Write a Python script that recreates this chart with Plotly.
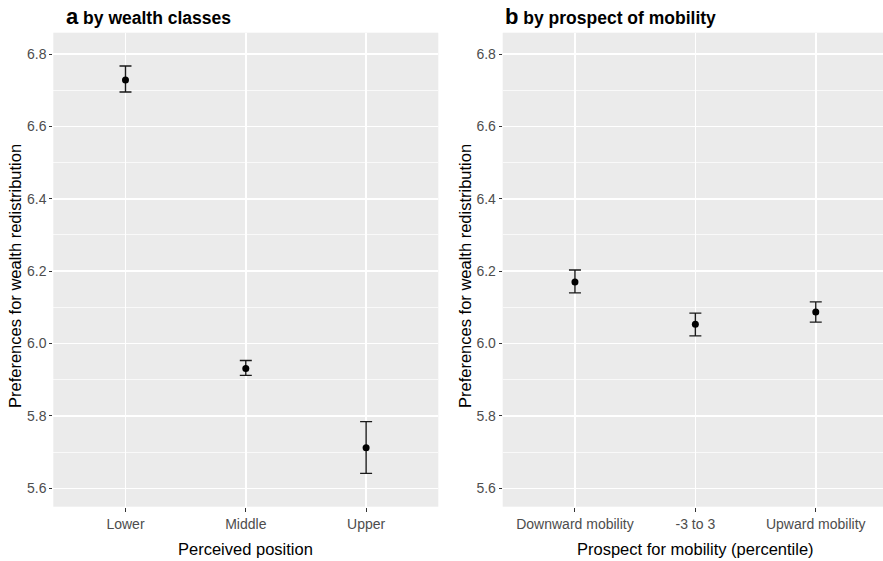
import plotly.graph_objects as go

# Panel a: by wealth classes
cats_a = ["Lower", "Middle", "Upper"]
mean_a = [6.728, 5.931, 5.712]
upper_a = [6.767, 5.953, 5.784]
lower_a = [6.695, 5.912, 5.641]

# Panel b: by prospect of mobility
cats_b = ["Downward mobility", "-3 to 3", "Upward mobility"]
mean_b = [6.170, 6.053, 6.087]
upper_b = [6.203, 6.084, 6.115]
lower_b = [6.140, 6.021, 6.059]

y_ticks = [5.6, 5.8, 6.0, 6.2, 6.4, 6.6, 6.8]
y_range = [5.549, 6.859]

FONT = "Liberation Sans, Arial, sans-serif"
W, H = 883, 561

fig = go.Figure()

def add_panel(cats, mean, up, lo, xa, ya):
    xs = list(range(len(cats)))
    fig.add_trace(go.Scatter(
        x=xs, y=mean, mode="markers",
        marker=dict(color="black", size=7),
        error_y=dict(type="data", symmetric=False,
                     array=[u - m for u, m in zip(up, mean)],
                     arrayminus=[m - l for m, l in zip(mean, lo)],
                     color="#1a1a1a", thickness=1.4, width=6),
        xaxis=xa, yaxis=ya, showlegend=False, hoverinfo="skip"))

add_panel(cats_a, mean_a, upper_a, lower_a, "x", "y")
add_panel(cats_b, mean_b, upper_b, lower_b, "x2", "y2")

ydom = [1 - 506.7 / H, 1 - 32.7 / H]
xdom_a = [53.3 / W, 438.3 / W]
xdom_b = [502.7 / W, 1.0]

common_x = dict(tickmode="array", tickvals=[0, 1, 2], ticks="outside",
                ticklen=4, tickcolor="#333333", tickwidth=1,
                tickfont=dict(family=FONT, size=14, color="#4d4d4d"),
                showgrid=True, gridcolor="white", gridwidth=1.5,
                zeroline=False, showline=False, fixedrange=True)
common_y = dict(range=y_range, tickmode="array", tickvals=y_ticks,
                ticktext=[f"{v:.1f}" for v in y_ticks],
                ticks="outside", ticklen=3, tickcolor="#333333", tickwidth=1,
                tickfont=dict(family=FONT, size=14, color="#4d4d4d"),
                showgrid=True, gridcolor="white", gridwidth=1.5,
                minor=dict(tickmode="array",
                           tickvals=[5.7, 5.9, 6.1, 6.3, 6.5, 6.7],
                           showgrid=True, gridcolor="white", gridwidth=0.7,
                           ticks=""),
                zeroline=False, showline=False, domain=ydom, fixedrange=True)

fig.update_layout(
    width=W, height=H, margin=dict(l=0, r=0, t=0, b=0),
    paper_bgcolor="white", plot_bgcolor="#ebebeb",
    font=dict(family=FONT),
    xaxis=dict(common_x, domain=xdom_a, range=[-0.6, 2.6],
               ticktext=cats_a, anchor="y"),
    yaxis=dict(common_y, anchor="x"),
    xaxis2=dict(common_x, domain=xdom_b, range=[-0.6, 2.6 - 5 / 120],
                ticktext=cats_b, anchor="y2"),
    yaxis2=dict(common_y, anchor="x2"),
)

ann = []
ann.append(dict(x=64 / W, y=1 - 17 / H, xref="paper", yref="paper",
                xanchor="left", yanchor="middle", showarrow=False,
                text="<b><span style='font-size:22px'>a</span> by wealth classes</b>",
                font=dict(family=FONT, size=17.5, color="black")))
ann.append(dict(x=503 / W, y=1 - 17 / H, xref="paper", yref="paper",
                xanchor="left", yanchor="middle", showarrow=False,
                text="<b><span style='font-size:22px'>b</span> by prospect of mobility</b>",
                font=dict(family=FONT, size=17.5, color="black")))
ann.append(dict(x=15 / W, y=1 - 276 / H, xref="paper", yref="paper",
                xanchor="center", yanchor="middle", showarrow=False, textangle=-90,
                text="Preferences for wealth redistribution",
                font=dict(family=FONT, size=16.5, color="black")))
ann.append(dict(x=465 / W, y=1 - 276 / H, xref="paper", yref="paper",
                xanchor="center", yanchor="middle", showarrow=False, textangle=-90,
                text="Preferences for wealth redistribution",
                font=dict(family=FONT, size=16.5, color="black")))
ann.append(dict(x=(xdom_a[0] + xdom_a[1]) / 2, y=1 - 549 / H, xref="paper", yref="paper",
                xanchor="center", yanchor="middle", showarrow=False,
                text="Perceived position",
                font=dict(family=FONT, size=16.5, color="black")))
ann.append(dict(x=695.5 / W, y=1 - 549 / H, xref="paper", yref="paper",
                xanchor="center", yanchor="middle", showarrow=False,
                text="Prospect for mobility (percentile)",
                font=dict(family=FONT, size=16.5, color="black")))
fig.update_layout(annotations=ann)

fig.write_html("out.html", config={"displayModeBar": False, "staticPlot": True},
               post_script="document.body.style.margin='0px';document.body.style.overflow='hidden';")
